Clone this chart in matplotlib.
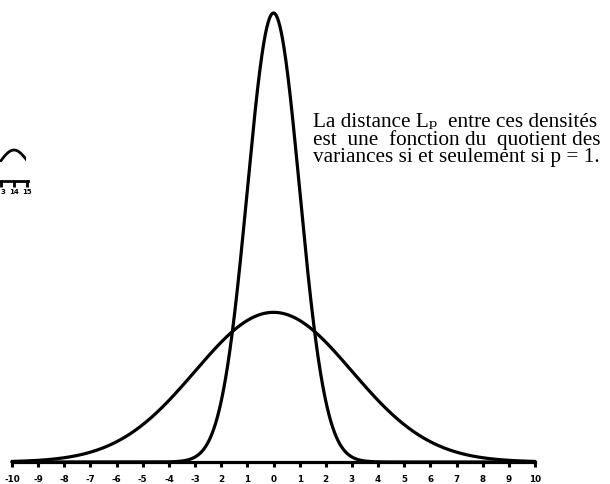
import numpy as np
import matplotlib
matplotlib.use("Agg")
import matplotlib.pyplot as plt

# deux densités normales centrées, écarts-types 1 et 3
moyenne = 0.0
sigma_etroite = 1.0
sigma_large = 3.0

graduations = [-10, -9, -8, -7, -6, -5, -4, -3, -2, -1, 0, 1, 2, 3, 4, 5, 6, 7, 8, 9, 10]
etiquettes = ["-10", "-9", "-8", "-7", "-6", "-5", "-4", "-3", "2", "1", "0",
              "1", "2", "3", "4", "5", "6", "7", "8", "9", "10"]

# morceau de la figure voisine (coin haut gauche)
grad_voisine = [13, 14, 15]
etiq_voisine = ["3", "14", "15"]
centre_voisine = 14.0
sigma_voisine = 1.1

texte = ["La distance L\u209a  entre ces densités",
         "est  une  fonction du  quotient des",
         "variances si et seulement si p = 1."]

W, H = 610, 484
fig = plt.figure(figsize=(W / 100, H / 100), dpi=100)
fig.patch.set_facecolor("white")


def boite(x0, x1, y_haut, y_bas):
    # rectangle en pixels (origine en haut à gauche) -> fraction de figure
    return [x0 / W, (H - y_bas) / H, (x1 - x0) / W, (y_bas - y_haut) / H]


def densite(x, m, s):
    return np.exp(-(x - m) ** 2 / (2 * s ** 2)) / (s * np.sqrt(2 * np.pi))


# graphique principal
ax = fig.add_axes(boite(12, 535, 13, 462))
x = np.linspace(graduations[0], graduations[-1], 1200)
for s in (sigma_etroite, sigma_large):
    ax.plot(x, densite(x, moyenne, s), color="black", lw=2.3, clip_on=False,
            solid_capstyle="round")
ax.set_xlim(graduations[0], graduations[-1])
ax.set_ylim(0, densite(moyenne, moyenne, sigma_etroite))
for cote in ("top", "right", "left"):
    ax.spines[cote].set_visible(False)
ax.spines["bottom"].set_linewidth(2.3)
ax.set_yticks([])
ax.set_xticks(graduations)
ax.set_xticklabels(etiquettes, fontsize=6.3, fontweight="bold", family="DejaVu Sans")
ax.tick_params(axis="x", direction="out", length=3.5, width=2.2, pad=6)
ax.patch.set_alpha(0)

# le commentaire, en un seul bloc de trois lignes
fig.text(313 / W, 1 - 113 / H, "\n".join(texte),
         family=["Liberation Serif", "DejaVu Serif", "DejaVu Sans"],
         fontsize=15.3, va="top", ha="left", linespacing=0.87)

# coin haut gauche : sommet de courbe et bout d'axe
px_unite = 13.0
x0_px = 1.0
ax_arc = fig.add_axes(boite(0, 26, 147, 162))
xa = np.linspace(grad_voisine[0] - 1, grad_voisine[-1], 300)
ax_arc.plot(xa, np.exp(-(xa - centre_voisine) ** 2 / (2 * sigma_voisine ** 2)),
            color="black", lw=2.0)
ax_arc.set_xlim(grad_voisine[0] - x0_px / px_unite, grad_voisine[0] + (26 - x0_px) / px_unite)
ax_arc.set_ylim((181 - 162) / 31, (181 - 147) / 31)
ax_arc.axis("off")

ax_bout = fig.add_axes(boite(0, 28, 170, 181))
ax_bout.set_xlim(grad_voisine[0] - x0_px / px_unite, grad_voisine[0] + (28 - x0_px) / px_unite)
for cote in ("top", "right", "left"):
    ax_bout.spines[cote].set_visible(False)
ax_bout.spines["bottom"].set_linewidth(2.0)
ax_bout.set_yticks([])
ax_bout.set_xticks(grad_voisine)
ax_bout.set_xticklabels(etiq_voisine, fontsize=5, fontweight="bold")
ax_bout.get_xticklabels()[0].set_horizontalalignment("left")
ax_bout.tick_params(axis="x", direction="out", length=4, width=2, pad=2)
ax_bout.patch.set_alpha(0)

fig.savefig("out.png", dpi=100, facecolor="white")
